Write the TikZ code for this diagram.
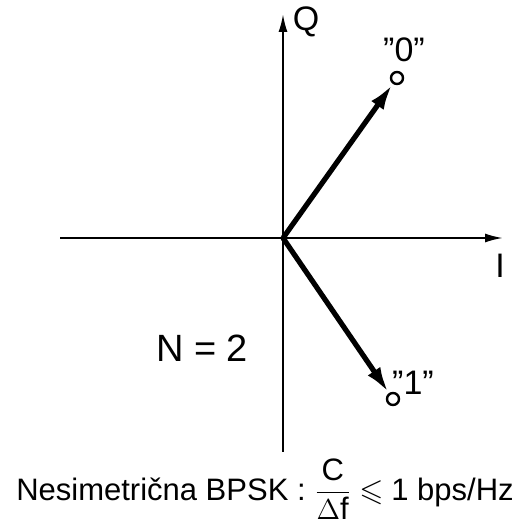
\documentclass[tikz,border=0pt]{standalone}
\usepackage{amsmath,amssymb}
\usepackage{fontspec}
\setmainfont{Liberation Sans}
\usetikzlibrary{arrows.meta,positioning}
\tikzset{
  bpskpicture/.style={x=0.5pt, y=0.5pt},
  bpskaxis/.style={line width=1pt, -{Latex[length=9pt, width=4.5pt]}},
  bpskvector/.style={line width=2.6pt, -{Latex[length=13pt, width=7.5pt]}, shorten >=0.2pt},
  bpskpoint/.style={circle, draw, line width=1.2pt, fill=white, inner sep=0pt, minimum size=6pt},
  bpsklabel/.style={font=\fontsize{17}{20}\selectfont, inner sep=1pt}
}

\begin{document}
\begin{tikzpicture}[bpskpicture]
\useasboundingbox (0,0) rectangle (511,525);
\coordinate (o) at (283,287);
\coordinate (qlow) at (283,73);
\coordinate (qtop) at (283,511);
\coordinate (ileft) at (60,287);
\coordinate (iright) at (503,287);
\node[bpskpoint] (p0) at (397,447) {};
\node[bpskpoint] (p1) at (393,126) {};
\node[bpsklabel] (qname) at (306,503) {Q};
\node[bpsklabel] (iname) at (500,259) {I};
\node[bpsklabel] (zero) at (404,475) {"0"};
\node[bpsklabel] (one) at (413,142) {"1"};
\node[bpsklabel, font=\fontsize{19}{22}\selectfont] (nlevel) at (202,177) {N = 2};
\node[bpsklabel, font=\fontsize{15.5}{18}\selectfont, anchor=base] (note) at (265,25)
  {Nesimetrična BPSK : $\dfrac{\mathrm{C}}{\Delta\mathrm{f}} \leqslant \mathrm{1}$ bps/Hz};
\draw[bpskaxis] (qlow) -- (qtop);
\draw[bpskaxis] (ileft) -- (iright);
\draw[bpskvector] (o) -- (p0);
\draw[bpskvector] (o) -- (p1);
\end{tikzpicture}
\end{document}
